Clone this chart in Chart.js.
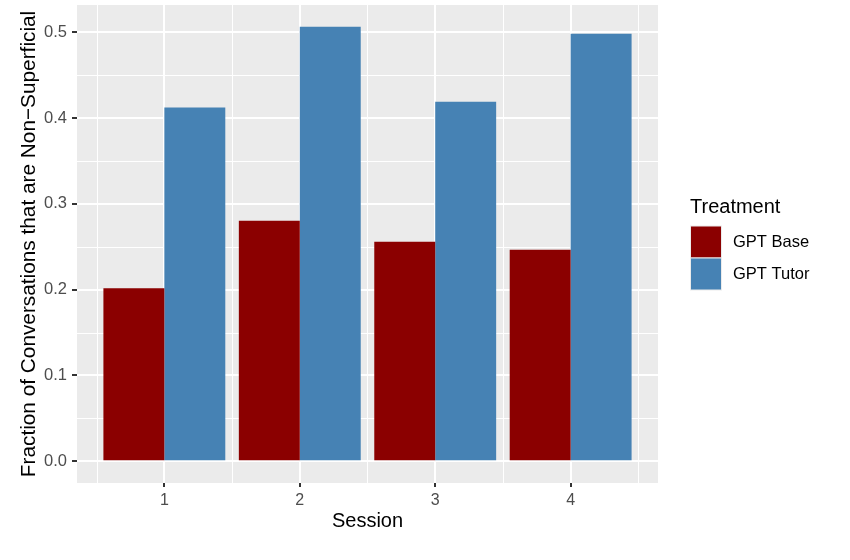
<!DOCTYPE html>
<html>
<head>
<meta charset="utf-8">
<script src="https://cdn.jsdelivr.net/npm/chart.js@4.4.1/dist/chart.umd.min.js"></script>
<style>
    html, body { margin: 0; padding: 0; background: #ffffff; }
    #wrap { width: 850px; height: 560px; position: relative; }
</style>
</head>
<body>
<div id="wrap"><canvas id="chart"></canvas></div>
<script>
// data
const sessions = [1, 2, 3, 4];
const gptBase = [0.2016, 0.2804, 0.2558, 0.2465];
const gptTutor = [0.4124, 0.5066, 0.4190, 0.4984];
const seriesNames = ['GPT Base', 'GPT Tutor'];
const seriesColors = ['#8B0000', '#4682B4'];
const yTicks = [0, 0.1, 0.2, 0.3, 0.4, 0.5];

const FONT = "'Liberation Sans', Arial, Helvetica, sans-serif";

// ggplot-like ranges: bars are 0.9 wide, 5% expansion
const xLo = sessions[0] - 0.45;
const xHi = sessions[sessions.length - 1] + 0.45;
const xPad = (xHi - xLo) * 0.05;
const yTop = Math.max(...gptBase, ...gptTutor);

// grey panel + minor grid lines (half way between major ticks)
const panelPlugin = {
    id: 'panel',
    beforeDraw(chart) {
        const { ctx, chartArea: a, scales } = chart;
        ctx.save();
        ctx.fillStyle = '#EBEBEB';
        ctx.fillRect(a.left, a.top, a.right - a.left, a.bottom - a.top);
        ctx.strokeStyle = '#ffffff';
        ctx.lineWidth = 1;
        const minor = (scale) => {
            const vals = scale.ticks.map(t => t.value);
            const step = vals[1] - vals[0];
            const out = [vals[0] - step / 2];
            vals.forEach(v => out.push(v + step / 2));
            return out.filter(v => v > scale.min && v < scale.max);
        };
        minor(scales.x).forEach(v => {
            const px = Math.round(scales.x.getPixelForValue(v)) + 0.5;
            ctx.beginPath(); ctx.moveTo(px, a.top); ctx.lineTo(px, a.bottom); ctx.stroke();
        });
        minor(scales.y).forEach(v => {
            const py = Math.round(scales.y.getPixelForValue(v)) + 0.5;
            ctx.beginPath(); ctx.moveTo(a.left, py); ctx.lineTo(a.right, py); ctx.stroke();
        });
        ctx.restore();
    }
};

// ggplot style legend on the right
const legendPlugin = {
    id: 'ggLegend',
    afterDraw(chart) {
        const ctx = chart.ctx;
        const x0 = 690, y0 = 225.5, key = 32;
        ctx.save();
        ctx.fillStyle = '#000000';
        ctx.font = '20px ' + FONT;
        ctx.textBaseline = 'alphabetic';
        ctx.textAlign = 'left';
        ctx.fillText('Treatment', x0, 213);
        chart.data.datasets.forEach((ds, i) => {
            const y = y0 + i * key;
            ctx.fillStyle = '#EBEBEB';
            ctx.fillRect(x0, y, key, key + 1);
            ctx.fillStyle = ds.backgroundColor;
            ctx.fillRect(x0 + 1, y + 1, key - 2, key - 1);
            ctx.fillStyle = '#000000';
            ctx.font = '16.5px ' + FONT;
            ctx.textBaseline = 'middle';
            ctx.fillText(ds.label, 733, y + key / 2 + 1);
        });
        ctx.restore();
    }
};

new Chart(document.getElementById('chart'), {
    type: 'bar',
    data: {
        datasets: [
            {
                label: seriesNames[0],
                data: sessions.map((s, i) => ({ x: s, y: gptBase[i] })),
                backgroundColor: seriesColors[0],
                borderWidth: 0
            },
            {
                label: seriesNames[1],
                data: sessions.map((s, i) => ({ x: s, y: gptTutor[i] })),
                backgroundColor: seriesColors[1],
                borderWidth: 0
            }
        ]
    },
    options: {
        responsive: true,
        maintainAspectRatio: false,
        animation: false,
        devicePixelRatio: 1,
        categoryPercentage: 0.9,
        barPercentage: 1.0,
        layout: { padding: { top: 5, right: 192, bottom: 0, left: 0 } },
        plugins: {
            legend: { display: false },
            tooltip: { enabled: false }
        },
        scales: {
            x: {
                type: 'linear',
                offset: false,
                min: xLo - xPad,
                max: xHi + xPad,
                afterBuildTicks: (scale) => { scale.ticks = sessions.map(v => ({ value: v })); },
                afterFit: (scale) => {
                    scale.height = 77;
                    scale.paddingLeft = 0;
                    scale.paddingRight = 0;
                },
                border: { display: false },
                grid: {
                    offset: false,
                    color: '#ffffff',
                    lineWidth: 2,
                    drawTicks: true,
                    tickLength: 4,
                    tickWidth: 2,
                    tickColor: '#333333'
                },
                ticks: {
                    padding: 4,
                    color: '#4D4D4D',
                    font: { family: FONT, size: 16 },
                    callback: (v) => String(v)
                },
                title: {
                    display: true,
                    text: 'Session',
                    color: '#000000',
                    font: { family: FONT, size: 20 },
                    padding: { top: 0, bottom: 27 }
                }
            },
            y: {
                type: 'linear',
                min: -0.05 * yTop,
                max: 1.05 * yTop,
                afterBuildTicks: (scale) => { scale.ticks = yTicks.map(v => ({ value: v })); },
                afterFit: (scale) => {
                    scale.width = 77;
                    scale.paddingTop = 0;
                    scale.paddingBottom = 0;
                },
                border: { display: false },
                grid: {
                    color: '#ffffff',
                    lineWidth: 2,
                    drawTicks: true,
                    tickLength: 5,
                    tickWidth: 2,
                    tickColor: '#333333'
                },
                ticks: {
                    padding: 5,
                    color: '#4D4D4D',
                    font: { family: FONT, size: 16.5 },
                    callback: (v) => Number(v).toFixed(1)
                },
                title: {
                    display: true,
                    text: 'Fraction of Conversations that are Non−Superficial',
                    color: '#000000',
                    font: { family: FONT, size: 20.8 },
                    padding: { top: 17, bottom: 0 }
                }
            }
        }
    },
    plugins: [panelPlugin, legendPlugin]
});
</script>
</body>
</html>
